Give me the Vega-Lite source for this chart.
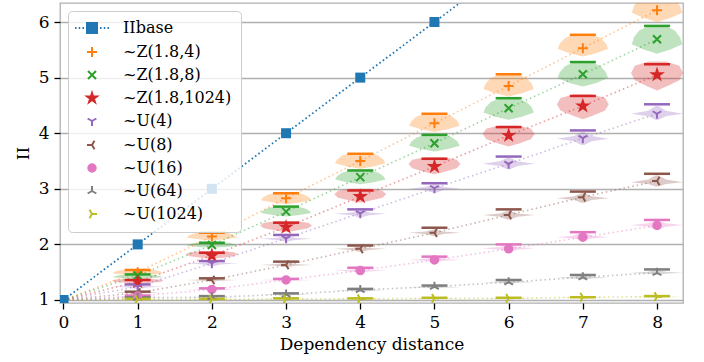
{
"$schema":"https://vega.github.io/schema/vega-lite/v6.json",
"width":623,"height":300,
"autosize":"none",
"padding":{"left":60,"top":3,"right":21,"bottom":59},
"config":{
 "font":"DejaVu Serif",
 "view":{"stroke":"#b0b0b0","strokeWidth":1.3},
 "axis":{"labelFont":"DejaVu Serif","titleFont":"DejaVu Serif","labelFontSize":17,"titleFontSize":17,"titleFontWeight":"normal","labelColor":"#000","titleColor":"#000","tickColor":"#000","tickSize":6,"tickWidth":1.3,"domain":false,"labelPadding":5,"gridColor":"#b0b0b0","gridWidth":1.3,"gridOpacity":1},
 "axisY":{"titlePadding":6},
 "axisX":{"titlePadding":6},
 "legend":{"orient":"top-left","offset":8,"padding":9,"fillColor":"rgba(255,255,255,0.8)","strokeColor":"#cccccc","cornerRadius":4,"labelFont":"DejaVu Serif","labelFontSize":16,"labelColor":"#000","rowPadding":6,"symbolSize":100,"symbolStrokeWidth":2,"symbolOffset":7,"labelOffset":23}
},
"datasets":{
 "base":[{"d":0,"v":1},{"d":1,"v":2},{"d":2,"v":3},{"d":3,"v":4},{"d":4,"v":5},{"d":5,"v":6},{"d":6,"v":7}],
 "pts":[
  {"s":"~Z(1.8,4)","d":0,"m":1},{"s":"~Z(1.8,4)","d":1,"m":1.5,"mx":1.54},{"s":"~Z(1.8,4)","d":2,"m":2.14,"mx":2.21},{"s":"~Z(1.8,4)","d":3,"m":2.83,"mx":2.92},{"s":"~Z(1.8,4)","d":4,"m":3.5,"mx":3.63},{"s":"~Z(1.8,4)","d":5,"m":4.18,"mx":4.35},{"s":"~Z(1.8,4)","d":6,"m":4.85,"mx":5.06},{"s":"~Z(1.8,4)","d":7,"m":5.53,"mx":5.77},{"s":"~Z(1.8,4)","d":8,"m":6.21,"mx":6.48},
  {"s":"~Z(1.8,8)","d":0,"m":1},{"s":"~Z(1.8,8)","d":1,"m":1.44,"mx":1.46},{"s":"~Z(1.8,8)","d":2,"m":1.99,"mx":2.03},{"s":"~Z(1.8,8)","d":3,"m":2.59,"mx":2.68},{"s":"~Z(1.8,8)","d":4,"m":3.21,"mx":3.33},{"s":"~Z(1.8,8)","d":5,"m":3.82,"mx":3.97},{"s":"~Z(1.8,8)","d":6,"m":4.45,"mx":4.63},{"s":"~Z(1.8,8)","d":7,"m":5.06,"mx":5.28},{"s":"~Z(1.8,8)","d":8,"m":5.69,"mx":5.93},
  {"s":"~Z(1.8,1024)","d":0,"m":1},{"s":"~Z(1.8,1024)","d":1,"m":1.33,"mx":1.36},{"s":"~Z(1.8,1024)","d":2,"m":1.8,"mx":1.85},{"s":"~Z(1.8,1024)","d":3,"m":2.31,"mx":2.39},{"s":"~Z(1.8,1024)","d":4,"m":2.86,"mx":2.97},{"s":"~Z(1.8,1024)","d":5,"m":3.4,"mx":3.54},{"s":"~Z(1.8,1024)","d":6,"m":3.96,"mx":4.11},{"s":"~Z(1.8,1024)","d":7,"m":4.49,"mx":4.67},{"s":"~Z(1.8,1024)","d":8,"m":5.05,"mx":5.24},
  {"s":"~U(4)","d":0,"m":1},{"s":"~U(4)","d":1,"m":1.24,"mx":1.28},{"s":"~U(4)","d":2,"m":1.66,"mx":1.7},{"s":"~U(4)","d":3,"m":2.11,"mx":2.17},{"s":"~U(4)","d":4,"m":2.56,"mx":2.63},{"s":"~U(4)","d":5,"m":3.01,"mx":3.1},{"s":"~U(4)","d":6,"m":3.45,"mx":3.58},{"s":"~U(4)","d":7,"m":3.91,"mx":4.05},{"s":"~U(4)","d":8,"m":4.35,"mx":4.52},
  {"s":"~U(8)","d":0,"m":1},{"s":"~U(8)","d":1,"m":1.13,"mx":1.15},{"s":"~U(8)","d":2,"m":1.36,"mx":1.39},{"s":"~U(8)","d":3,"m":1.63,"mx":1.69},{"s":"~U(8)","d":4,"m":1.92,"mx":1.98},{"s":"~U(8)","d":5,"m":2.21,"mx":2.3},{"s":"~U(8)","d":6,"m":2.53,"mx":2.63},{"s":"~U(8)","d":7,"m":2.85,"mx":2.95},{"s":"~U(8)","d":8,"m":3.14,"mx":3.27},
  {"s":"~U(16)","d":0,"m":1},{"s":"~U(16)","d":1,"m":1.07,"mx":1.08},{"s":"~U(16)","d":2,"m":1.19,"mx":1.21},{"s":"~U(16)","d":3,"m":1.36,"mx":1.38},{"s":"~U(16)","d":4,"m":1.53,"mx":1.58},{"s":"~U(16)","d":5,"m":1.72,"mx":1.78},{"s":"~U(16)","d":6,"m":1.92,"mx":2.0},{"s":"~U(16)","d":7,"m":2.13,"mx":2.22},{"s":"~U(16)","d":8,"m":2.34,"mx":2.44},
  {"s":"~U(64)","d":0,"m":1},{"s":"~U(64)","d":1,"m":1.04,"mx":1.05},{"s":"~U(64)","d":2,"m":1.05,"mx":1.07},{"s":"~U(64)","d":3,"m":1.1,"mx":1.12},{"s":"~U(64)","d":4,"m":1.18,"mx":1.2},{"s":"~U(64)","d":5,"m":1.24,"mx":1.26},{"s":"~U(64)","d":6,"m":1.32,"mx":1.36},{"s":"~U(64)","d":7,"m":1.41,"mx":1.45},{"s":"~U(64)","d":8,"m":1.49,"mx":1.55},
  {"s":"~U(1024)","d":0,"m":1},{"s":"~U(1024)","d":1,"m":1.01,"mx":1.02},{"s":"~U(1024)","d":2,"m":1.01,"mx":1.02},{"s":"~U(1024)","d":3,"m":1.02,"mx":1.03},{"s":"~U(1024)","d":4,"m":1.02,"mx":1.03},{"s":"~U(1024)","d":5,"m":1.03,"mx":1.04},{"s":"~U(1024)","d":6,"m":1.03,"mx":1.04},{"s":"~U(1024)","d":7,"m":1.05,"mx":1.05},{"s":"~U(1024)","d":8,"m":1.06,"mx":1.07}
 ],
 "vio":[
  {"s":"~Z(1.8,4)","d":1,"y":1.44,"w":0},{"s":"~Z(1.8,4)","d":1,"y":1.457,"w":0.18},{"s":"~Z(1.8,4)","d":1,"y":1.479,"w":0.34},{"s":"~Z(1.8,4)","d":1,"y":1.506,"w":0.31},{"s":"~Z(1.8,4)","d":1,"y":1.534,"w":0.24},{"s":"~Z(1.8,4)","d":1,"y":1.55,"w":0.13},
  {"s":"~Z(1.8,4)","d":2,"y":2.07,"w":0},{"s":"~Z(1.8,4)","d":2,"y":2.093,"w":0.18},{"s":"~Z(1.8,4)","d":2,"y":2.123,"w":0.34},{"s":"~Z(1.8,4)","d":2,"y":2.16,"w":0.31},{"s":"~Z(1.8,4)","d":2,"y":2.198,"w":0.24},{"s":"~Z(1.8,4)","d":2,"y":2.22,"w":0.13},
  {"s":"~Z(1.8,4)","d":3,"y":2.72,"w":0},{"s":"~Z(1.8,4)","d":3,"y":2.752,"w":0.18},{"s":"~Z(1.8,4)","d":3,"y":2.794,"w":0.34},{"s":"~Z(1.8,4)","d":3,"y":2.846,"w":0.31},{"s":"~Z(1.8,4)","d":3,"y":2.899,"w":0.24},{"s":"~Z(1.8,4)","d":3,"y":2.93,"w":0.13},
  {"s":"~Z(1.8,4)","d":4,"y":3.36,"w":0},{"s":"~Z(1.8,4)","d":4,"y":3.402,"w":0.18},{"s":"~Z(1.8,4)","d":4,"y":3.458,"w":0.34},{"s":"~Z(1.8,4)","d":4,"y":3.528,"w":0.31},{"s":"~Z(1.8,4)","d":4,"y":3.598,"w":0.24},{"s":"~Z(1.8,4)","d":4,"y":3.64,"w":0.13},
  {"s":"~Z(1.8,4)","d":5,"y":4.02,"w":0},{"s":"~Z(1.8,4)","d":5,"y":4.07,"w":0.18},{"s":"~Z(1.8,4)","d":5,"y":4.136,"w":0.34},{"s":"~Z(1.8,4)","d":5,"y":4.218,"w":0.31},{"s":"~Z(1.8,4)","d":5,"y":4.301,"w":0.24},{"s":"~Z(1.8,4)","d":5,"y":4.35,"w":0.13},
  {"s":"~Z(1.8,4)","d":6,"y":4.66,"w":0},{"s":"~Z(1.8,4)","d":6,"y":4.719,"w":0.18},{"s":"~Z(1.8,4)","d":6,"y":4.797,"w":0.34},{"s":"~Z(1.8,4)","d":6,"y":4.894,"w":0.31},{"s":"~Z(1.8,4)","d":6,"y":4.992,"w":0.24},{"s":"~Z(1.8,4)","d":6,"y":5.05,"w":0.13},
  {"s":"~Z(1.8,4)","d":7,"y":5.38,"w":0},{"s":"~Z(1.8,4)","d":7,"y":5.439,"w":0.18},{"s":"~Z(1.8,4)","d":7,"y":5.517,"w":0.34},{"s":"~Z(1.8,4)","d":7,"y":5.614,"w":0.31},{"s":"~Z(1.8,4)","d":7,"y":5.712,"w":0.24},{"s":"~Z(1.8,4)","d":7,"y":5.77,"w":0.13},
  {"s":"~Z(1.8,4)","d":8,"y":6.0,"w":0},{"s":"~Z(1.8,4)","d":8,"y":6.072,"w":0.18},{"s":"~Z(1.8,4)","d":8,"y":6.168,"w":0.34},{"s":"~Z(1.8,4)","d":8,"y":6.288,"w":0.31},{"s":"~Z(1.8,4)","d":8,"y":6.408,"w":0.24},{"s":"~Z(1.8,4)","d":8,"y":6.48,"w":0.13},
  {"s":"~Z(1.8,8)","d":1,"y":1.38,"w":0},{"s":"~Z(1.8,8)","d":1,"y":1.392,"w":0.18},{"s":"~Z(1.8,8)","d":1,"y":1.408,"w":0.34},{"s":"~Z(1.8,8)","d":1,"y":1.428,"w":0.31},{"s":"~Z(1.8,8)","d":1,"y":1.448,"w":0.24},{"s":"~Z(1.8,8)","d":1,"y":1.46,"w":0.13},
  {"s":"~Z(1.8,8)","d":2,"y":1.94,"w":0},{"s":"~Z(1.8,8)","d":2,"y":1.955,"w":0.18},{"s":"~Z(1.8,8)","d":2,"y":1.975,"w":0.34},{"s":"~Z(1.8,8)","d":2,"y":2.0,"w":0.31},{"s":"~Z(1.8,8)","d":2,"y":2.025,"w":0.24},{"s":"~Z(1.8,8)","d":2,"y":2.04,"w":0.13},
  {"s":"~Z(1.8,8)","d":3,"y":2.5,"w":0},{"s":"~Z(1.8,8)","d":3,"y":2.527,"w":0.18},{"s":"~Z(1.8,8)","d":3,"y":2.563,"w":0.34},{"s":"~Z(1.8,8)","d":3,"y":2.608,"w":0.31},{"s":"~Z(1.8,8)","d":3,"y":2.653,"w":0.24},{"s":"~Z(1.8,8)","d":3,"y":2.68,"w":0.13},
  {"s":"~Z(1.8,8)","d":4,"y":3.08,"w":0},{"s":"~Z(1.8,8)","d":4,"y":3.118,"w":0.18},{"s":"~Z(1.8,8)","d":4,"y":3.168,"w":0.34},{"s":"~Z(1.8,8)","d":4,"y":3.23,"w":0.31},{"s":"~Z(1.8,8)","d":4,"y":3.293,"w":0.24},{"s":"~Z(1.8,8)","d":4,"y":3.33,"w":0.13},
  {"s":"~Z(1.8,8)","d":5,"y":3.67,"w":0},{"s":"~Z(1.8,8)","d":5,"y":3.715,"w":0.18},{"s":"~Z(1.8,8)","d":5,"y":3.775,"w":0.34},{"s":"~Z(1.8,8)","d":5,"y":3.85,"w":0.31},{"s":"~Z(1.8,8)","d":5,"y":3.925,"w":0.24},{"s":"~Z(1.8,8)","d":5,"y":3.97,"w":0.13},
  {"s":"~Z(1.8,8)","d":6,"y":4.24,"w":0},{"s":"~Z(1.8,8)","d":6,"y":4.297,"w":0.18},{"s":"~Z(1.8,8)","d":6,"y":4.373,"w":0.34},{"s":"~Z(1.8,8)","d":6,"y":4.468,"w":0.31},{"s":"~Z(1.8,8)","d":6,"y":4.563,"w":0.24},{"s":"~Z(1.8,8)","d":6,"y":4.62,"w":0.13},
  {"s":"~Z(1.8,8)","d":7,"y":4.84,"w":0},{"s":"~Z(1.8,8)","d":7,"y":4.905,"w":0.18},{"s":"~Z(1.8,8)","d":7,"y":4.991,"w":0.34},{"s":"~Z(1.8,8)","d":7,"y":5.098,"w":0.31},{"s":"~Z(1.8,8)","d":7,"y":5.206,"w":0.24},{"s":"~Z(1.8,8)","d":7,"y":5.27,"w":0.13},
  {"s":"~Z(1.8,8)","d":8,"y":5.43,"w":0},{"s":"~Z(1.8,8)","d":8,"y":5.504,"w":0.18},{"s":"~Z(1.8,8)","d":8,"y":5.602,"w":0.34},{"s":"~Z(1.8,8)","d":8,"y":5.724,"w":0.31},{"s":"~Z(1.8,8)","d":8,"y":5.847,"w":0.24},{"s":"~Z(1.8,8)","d":8,"y":5.92,"w":0.13},
  {"s":"~Z(1.8,1024)","d":1,"y":1.29,"w":0},{"s":"~Z(1.8,1024)","d":1,"y":1.304,"w":0.14},{"s":"~Z(1.8,1024)","d":1,"y":1.322,"w":0.3},{"s":"~Z(1.8,1024)","d":1,"y":1.344,"w":0.35},{"s":"~Z(1.8,1024)","d":1,"y":1.367,"w":0.3},{"s":"~Z(1.8,1024)","d":1,"y":1.38,"w":0.12},
  {"s":"~Z(1.8,1024)","d":2,"y":1.74,"w":0},{"s":"~Z(1.8,1024)","d":2,"y":1.761,"w":0.14},{"s":"~Z(1.8,1024)","d":2,"y":1.789,"w":0.3},{"s":"~Z(1.8,1024)","d":2,"y":1.824,"w":0.35},{"s":"~Z(1.8,1024)","d":2,"y":1.859,"w":0.3},{"s":"~Z(1.8,1024)","d":2,"y":1.88,"w":0.12},
  {"s":"~Z(1.8,1024)","d":3,"y":2.22,"w":0},{"s":"~Z(1.8,1024)","d":3,"y":2.25,"w":0.14},{"s":"~Z(1.8,1024)","d":3,"y":2.29,"w":0.3},{"s":"~Z(1.8,1024)","d":3,"y":2.34,"w":0.35},{"s":"~Z(1.8,1024)","d":3,"y":2.39,"w":0.3},{"s":"~Z(1.8,1024)","d":3,"y":2.42,"w":0.12},
  {"s":"~Z(1.8,1024)","d":4,"y":2.75,"w":0},{"s":"~Z(1.8,1024)","d":4,"y":2.788,"w":0.14},{"s":"~Z(1.8,1024)","d":4,"y":2.838,"w":0.3},{"s":"~Z(1.8,1024)","d":4,"y":2.9,"w":0.35},{"s":"~Z(1.8,1024)","d":4,"y":2.963,"w":0.3},{"s":"~Z(1.8,1024)","d":4,"y":3.0,"w":0.12},
  {"s":"~Z(1.8,1024)","d":5,"y":3.26,"w":0},{"s":"~Z(1.8,1024)","d":5,"y":3.307,"w":0.14},{"s":"~Z(1.8,1024)","d":5,"y":3.369,"w":0.3},{"s":"~Z(1.8,1024)","d":5,"y":3.446,"w":0.35},{"s":"~Z(1.8,1024)","d":5,"y":3.524,"w":0.3},{"s":"~Z(1.8,1024)","d":5,"y":3.57,"w":0.12},
  {"s":"~Z(1.8,1024)","d":6,"y":3.76,"w":0},{"s":"~Z(1.8,1024)","d":6,"y":3.817,"w":0.14},{"s":"~Z(1.8,1024)","d":6,"y":3.893,"w":0.3},{"s":"~Z(1.8,1024)","d":6,"y":3.988,"w":0.35},{"s":"~Z(1.8,1024)","d":6,"y":4.083,"w":0.3},{"s":"~Z(1.8,1024)","d":6,"y":4.14,"w":0.12},
  {"s":"~Z(1.8,1024)","d":7,"y":4.25,"w":0},{"s":"~Z(1.8,1024)","d":7,"y":4.318,"w":0.14},{"s":"~Z(1.8,1024)","d":7,"y":4.408,"w":0.3},{"s":"~Z(1.8,1024)","d":7,"y":4.52,"w":0.35},{"s":"~Z(1.8,1024)","d":7,"y":4.633,"w":0.3},{"s":"~Z(1.8,1024)","d":7,"y":4.7,"w":0.12},
  {"s":"~Z(1.8,1024)","d":8,"y":4.77,"w":0},{"s":"~Z(1.8,1024)","d":8,"y":4.848,"w":0.14},{"s":"~Z(1.8,1024)","d":8,"y":4.952,"w":0.3},{"s":"~Z(1.8,1024)","d":8,"y":5.082,"w":0.35},{"s":"~Z(1.8,1024)","d":8,"y":5.212,"w":0.3},{"s":"~Z(1.8,1024)","d":8,"y":5.29,"w":0.12},
  {"s":"~U(4)","d":1,"y":1.2,"w":0.02},{"s":"~U(4)","d":1,"y":1.224,"w":0.12},{"s":"~U(4)","d":1,"y":1.24,"w":0.35},{"s":"~U(4)","d":1,"y":1.252,"w":0.12},{"s":"~U(4)","d":1,"y":1.27,"w":0.02},
  {"s":"~U(4)","d":2,"y":1.61,"w":0.02},{"s":"~U(4)","d":2,"y":1.64,"w":0.12},{"s":"~U(4)","d":2,"y":1.66,"w":0.35},{"s":"~U(4)","d":2,"y":1.672,"w":0.12},{"s":"~U(4)","d":2,"y":1.69,"w":0.02},
  {"s":"~U(4)","d":3,"y":2.05,"w":0.02},{"s":"~U(4)","d":3,"y":2.08,"w":0.12},{"s":"~U(4)","d":3,"y":2.1,"w":0.35},{"s":"~U(4)","d":3,"y":2.12,"w":0.12},{"s":"~U(4)","d":3,"y":2.15,"w":0.02},
  {"s":"~U(4)","d":4,"y":2.49,"w":0.02},{"s":"~U(4)","d":4,"y":2.526,"w":0.12},{"s":"~U(4)","d":4,"y":2.55,"w":0.35},{"s":"~U(4)","d":4,"y":2.574,"w":0.12},{"s":"~U(4)","d":4,"y":2.61,"w":0.02},
  {"s":"~U(4)","d":5,"y":2.93,"w":0.02},{"s":"~U(4)","d":5,"y":2.972,"w":0.12},{"s":"~U(4)","d":5,"y":3.0,"w":0.35},{"s":"~U(4)","d":5,"y":3.032,"w":0.12},{"s":"~U(4)","d":5,"y":3.08,"w":0.02},
  {"s":"~U(4)","d":6,"y":3.35,"w":0.02},{"s":"~U(4)","d":6,"y":3.41,"w":0.12},{"s":"~U(4)","d":6,"y":3.45,"w":0.35},{"s":"~U(4)","d":6,"y":3.494,"w":0.12},{"s":"~U(4)","d":6,"y":3.56,"w":0.02},
  {"s":"~U(4)","d":7,"y":3.79,"w":0.02},{"s":"~U(4)","d":7,"y":3.856,"w":0.12},{"s":"~U(4)","d":7,"y":3.9,"w":0.35},{"s":"~U(4)","d":7,"y":3.948,"w":0.12},{"s":"~U(4)","d":7,"y":4.02,"w":0.02},
  {"s":"~U(4)","d":8,"y":4.24,"w":0.02},{"s":"~U(4)","d":8,"y":4.306,"w":0.12},{"s":"~U(4)","d":8,"y":4.35,"w":0.35},{"s":"~U(4)","d":8,"y":4.406,"w":0.12},{"s":"~U(4)","d":8,"y":4.49,"w":0.02},
  {"s":"~U(8)","d":1,"y":1.11,"w":0.02},{"s":"~U(8)","d":1,"y":1.122,"w":0.12},{"s":"~U(8)","d":1,"y":1.13,"w":0.35},{"s":"~U(8)","d":1,"y":1.138,"w":0.12},{"s":"~U(8)","d":1,"y":1.15,"w":0.02},
  {"s":"~U(8)","d":2,"y":1.33,"w":0.02},{"s":"~U(8)","d":2,"y":1.348,"w":0.12},{"s":"~U(8)","d":2,"y":1.36,"w":0.35},{"s":"~U(8)","d":2,"y":1.368,"w":0.12},{"s":"~U(8)","d":2,"y":1.38,"w":0.02},
  {"s":"~U(8)","d":3,"y":1.59,"w":0.02},{"s":"~U(8)","d":3,"y":1.614,"w":0.12},{"s":"~U(8)","d":3,"y":1.63,"w":0.35},{"s":"~U(8)","d":3,"y":1.646,"w":0.12},{"s":"~U(8)","d":3,"y":1.67,"w":0.02},
  {"s":"~U(8)","d":4,"y":1.87,"w":0.02},{"s":"~U(8)","d":4,"y":1.9,"w":0.12},{"s":"~U(8)","d":4,"y":1.92,"w":0.35},{"s":"~U(8)","d":4,"y":1.936,"w":0.12},{"s":"~U(8)","d":4,"y":1.96,"w":0.02},
  {"s":"~U(8)","d":5,"y":2.15,"w":0.02},{"s":"~U(8)","d":5,"y":2.186,"w":0.12},{"s":"~U(8)","d":5,"y":2.21,"w":0.35},{"s":"~U(8)","d":5,"y":2.234,"w":0.12},{"s":"~U(8)","d":5,"y":2.27,"w":0.02},
  {"s":"~U(8)","d":6,"y":2.45,"w":0.02},{"s":"~U(8)","d":6,"y":2.498,"w":0.12},{"s":"~U(8)","d":6,"y":2.53,"w":0.35},{"s":"~U(8)","d":6,"y":2.558,"w":0.12},{"s":"~U(8)","d":6,"y":2.6,"w":0.02},
  {"s":"~U(8)","d":7,"y":2.75,"w":0.02},{"s":"~U(8)","d":7,"y":2.798,"w":0.12},{"s":"~U(8)","d":7,"y":2.83,"w":0.35},{"s":"~U(8)","d":7,"y":2.866,"w":0.12},{"s":"~U(8)","d":7,"y":2.92,"w":0.02},
  {"s":"~U(8)","d":8,"y":3.04,"w":0.02},{"s":"~U(8)","d":8,"y":3.088,"w":0.12},{"s":"~U(8)","d":8,"y":3.12,"w":0.35},{"s":"~U(8)","d":8,"y":3.168,"w":0.12},{"s":"~U(8)","d":8,"y":3.24,"w":0.02},
  {"s":"~U(16)","d":1,"y":1.05,"w":0.02},{"s":"~U(16)","d":1,"y":1.062,"w":0.12},{"s":"~U(16)","d":1,"y":1.07,"w":0.35},{"s":"~U(16)","d":1,"y":1.074,"w":0.12},{"s":"~U(16)","d":1,"y":1.08,"w":0.02},
  {"s":"~U(16)","d":2,"y":1.17,"w":0.02},{"s":"~U(16)","d":2,"y":1.182,"w":0.12},{"s":"~U(16)","d":2,"y":1.19,"w":0.35},{"s":"~U(16)","d":2,"y":1.198,"w":0.12},{"s":"~U(16)","d":2,"y":1.21,"w":0.02},
  {"s":"~U(16)","d":3,"y":1.33,"w":0.02},{"s":"~U(16)","d":3,"y":1.348,"w":0.12},{"s":"~U(16)","d":3,"y":1.36,"w":0.35},{"s":"~U(16)","d":3,"y":1.368,"w":0.12},{"s":"~U(16)","d":3,"y":1.38,"w":0.02},
  {"s":"~U(16)","d":4,"y":1.49,"w":0.02},{"s":"~U(16)","d":4,"y":1.514,"w":0.12},{"s":"~U(16)","d":4,"y":1.53,"w":0.35},{"s":"~U(16)","d":4,"y":1.546,"w":0.12},{"s":"~U(16)","d":4,"y":1.57,"w":0.02},
  {"s":"~U(16)","d":5,"y":1.68,"w":0.02},{"s":"~U(16)","d":5,"y":1.704,"w":0.12},{"s":"~U(16)","d":5,"y":1.72,"w":0.35},{"s":"~U(16)","d":5,"y":1.74,"w":0.12},{"s":"~U(16)","d":5,"y":1.77,"w":0.02},
  {"s":"~U(16)","d":6,"y":1.87,"w":0.02},{"s":"~U(16)","d":6,"y":1.906,"w":0.12},{"s":"~U(16)","d":6,"y":1.93,"w":0.35},{"s":"~U(16)","d":6,"y":1.954,"w":0.12},{"s":"~U(16)","d":6,"y":1.99,"w":0.02},
  {"s":"~U(16)","d":7,"y":2.07,"w":0.02},{"s":"~U(16)","d":7,"y":2.106,"w":0.12},{"s":"~U(16)","d":7,"y":2.13,"w":0.35},{"s":"~U(16)","d":7,"y":2.162,"w":0.12},{"s":"~U(16)","d":7,"y":2.21,"w":0.02},
  {"s":"~U(16)","d":8,"y":2.27,"w":0.02},{"s":"~U(16)","d":8,"y":2.318,"w":0.12},{"s":"~U(16)","d":8,"y":2.35,"w":0.35},{"s":"~U(16)","d":8,"y":2.382,"w":0.12},{"s":"~U(16)","d":8,"y":2.43,"w":0.02},
  {"s":"~U(64)","d":1,"y":1.03,"w":0.02},{"s":"~U(64)","d":1,"y":1.036,"w":0.12},{"s":"~U(64)","d":1,"y":1.04,"w":0.35},{"s":"~U(64)","d":1,"y":1.044,"w":0.12},{"s":"~U(64)","d":1,"y":1.05,"w":0.02},
  {"s":"~U(64)","d":2,"y":1.04,"w":0.02},{"s":"~U(64)","d":2,"y":1.046,"w":0.12},{"s":"~U(64)","d":2,"y":1.05,"w":0.35},{"s":"~U(64)","d":2,"y":1.058,"w":0.12},{"s":"~U(64)","d":2,"y":1.07,"w":0.02},
  {"s":"~U(64)","d":3,"y":1.08,"w":0.02},{"s":"~U(64)","d":3,"y":1.092,"w":0.12},{"s":"~U(64)","d":3,"y":1.1,"w":0.35},{"s":"~U(64)","d":3,"y":1.108,"w":0.12},{"s":"~U(64)","d":3,"y":1.12,"w":0.02},
  {"s":"~U(64)","d":4,"y":1.15,"w":0.02},{"s":"~U(64)","d":4,"y":1.162,"w":0.12},{"s":"~U(64)","d":4,"y":1.17,"w":0.35},{"s":"~U(64)","d":4,"y":1.182,"w":0.12},{"s":"~U(64)","d":4,"y":1.2,"w":0.02},
  {"s":"~U(64)","d":5,"y":1.21,"w":0.02},{"s":"~U(64)","d":5,"y":1.222,"w":0.12},{"s":"~U(64)","d":5,"y":1.23,"w":0.35},{"s":"~U(64)","d":5,"y":1.242,"w":0.12},{"s":"~U(64)","d":5,"y":1.26,"w":0.02},
  {"s":"~U(64)","d":6,"y":1.29,"w":0.02},{"s":"~U(64)","d":6,"y":1.308,"w":0.12},{"s":"~U(64)","d":6,"y":1.32,"w":0.35},{"s":"~U(64)","d":6,"y":1.332,"w":0.12},{"s":"~U(64)","d":6,"y":1.35,"w":0.02},
  {"s":"~U(64)","d":7,"y":1.37,"w":0.02},{"s":"~U(64)","d":7,"y":1.388,"w":0.12},{"s":"~U(64)","d":7,"y":1.4,"w":0.35},{"s":"~U(64)","d":7,"y":1.416,"w":0.12},{"s":"~U(64)","d":7,"y":1.44,"w":0.02},
  {"s":"~U(64)","d":8,"y":1.45,"w":0.02},{"s":"~U(64)","d":8,"y":1.474,"w":0.12},{"s":"~U(64)","d":8,"y":1.49,"w":0.35},{"s":"~U(64)","d":8,"y":1.51,"w":0.12},{"s":"~U(64)","d":8,"y":1.54,"w":0.02},
  {"s":"~U(1024)","d":1,"y":1.0,"w":0.02},{"s":"~U(1024)","d":1,"y":1.01,"w":0.35},{"s":"~U(1024)","d":1,"y":1.02,"w":0.02},
  {"s":"~U(1024)","d":2,"y":1.0,"w":0.02},{"s":"~U(1024)","d":2,"y":1.01,"w":0.35},{"s":"~U(1024)","d":2,"y":1.02,"w":0.02},
  {"s":"~U(1024)","d":3,"y":1.01,"w":0.02},{"s":"~U(1024)","d":3,"y":1.02,"w":0.35},{"s":"~U(1024)","d":3,"y":1.03,"w":0.02},
  {"s":"~U(1024)","d":4,"y":1.01,"w":0.02},{"s":"~U(1024)","d":4,"y":1.02,"w":0.35},{"s":"~U(1024)","d":4,"y":1.03,"w":0.02},
  {"s":"~U(1024)","d":5,"y":1.02,"w":0.02},{"s":"~U(1024)","d":5,"y":1.03,"w":0.35},{"s":"~U(1024)","d":5,"y":1.04,"w":0.02},
  {"s":"~U(1024)","d":6,"y":1.02,"w":0.02},{"s":"~U(1024)","d":6,"y":1.03,"w":0.35},{"s":"~U(1024)","d":6,"y":1.04,"w":0.02},
  {"s":"~U(1024)","d":7,"y":1.03,"w":0.02},{"s":"~U(1024)","d":7,"y":1.045,"w":0.35},{"s":"~U(1024)","d":7,"y":1.055,"w":0.02},
  {"s":"~U(1024)","d":8,"y":1.04,"w":0.02},{"s":"~U(1024)","d":8,"y":1.055,"w":0.35},{"s":"~U(1024)","d":8,"y":1.07,"w":0.02}
 ]
},
"layer":[
 {
  "data":{"name":"vio"},
  "transform":[{"calculate":"datum.d - datum.w","as":"lo"},{"calculate":"datum.d + datum.w","as":"hi"}],
  "mark":{"type":"area","orient":"horizontal","opacity":0.3,"clip":true},
  "encoding":{
   "y":{"field":"y","type":"quantitative","title":"II","scale":{"domain":[0.946,6.342],"nice":false,"zero":false},"axis":{"values":[1,2,3,4,5,6],"grid":true}},
   "x":{"field":"lo","type":"quantitative","title":"Dependency distance","scale":{"domain":[-0.047,8.35],"nice":false,"zero":false},"axis":{"values":[0,1,2,3,4,5,6,7,8],"grid":false}},
   "x2":{"field":"hi"},
   "color":{"field":"s","type":"nominal","legend":null,"scale":{"domain":["~Z(1.8,4)","~Z(1.8,8)","~Z(1.8,1024)","~U(4)","~U(8)","~U(16)","~U(64)","~U(1024)"],"range":["#ff7f0e","#2ca02c","#d62728","#9467bd","#8c564b","#e377c2","#7f7f7f","#bcbd22"]}},
   "detail":{"field":"d","type":"nominal"}
  }
 },
 {
  "data":{"name":"pts"},
  "mark":{"type":"line","strokeDash":[1.5,3],"strokeWidth":1.6,"opacity":0.45,"clip":true},
  "encoding":{
   "y":{"field":"m","type":"quantitative","title":"II","axis":{"values":[1,2,3,4,5,6],"grid":true}},
   "x":{"field":"d","type":"quantitative","title":"Dependency distance","axis":{"values":[0,1,2,3,4,5,6,7,8],"grid":false}},
   "color":{"field":"s","type":"nominal","legend":null}
  }
 },
 {
  "data":{"name":"base"},
  "mark":{"type":"line","color":"#1f77b4","strokeDash":[1.6,2.6],"strokeWidth":1.8,"clip":true},
  "encoding":{
   "y":{"field":"v","type":"quantitative","title":"II","axis":{"values":[1,2,3,4,5,6],"grid":true}},
   "x":{"field":"d","type":"quantitative","title":"Dependency distance","axis":{"values":[0,1,2,3,4,5,6,7,8],"grid":false}}
  }
 },
 {
  "data":{"name":"pts"},
  "transform":[{"filter":"datum.d > 0"}],
  "mark":{"type":"tick","orient":"horizontal","size":26,"thickness":2.5,"opacity":1,"clip":true},
  "encoding":{
   "y":{"field":"mx","type":"quantitative","title":"II","axis":{"values":[1,2,3,4,5,6],"grid":true}},
   "x":{"field":"d","type":"quantitative","title":"Dependency distance","axis":{"values":[0,1,2,3,4,5,6,7,8],"grid":false}},
   "color":{"field":"s","type":"nominal","legend":null}
  }
 },
 {
  "data":{"name":"pts"},
  "transform":[{"filter":"datum.d > 0"}],
  "mark":{"type":"point","filled":true,"size":100,"strokeWidth":2,"opacity":1,"clip":true},
  "encoding":{
   "y":{"field":"m","type":"quantitative","title":"II","axis":{"values":[1,2,3,4,5,6],"grid":true}},
   "x":{"field":"d","type":"quantitative","title":"Dependency distance","axis":{"values":[0,1,2,3,4,5,6,7,8],"grid":false}},
   "fill":{"field":"s","type":"nominal","legend":{"title":null},"scale":{"domain":["IIbase","~Z(1.8,4)","~Z(1.8,8)","~Z(1.8,1024)","~U(4)","~U(8)","~U(16)","~U(64)","~U(1024)"],"range":["#1f77b4","#ff7f0e","#2ca02c","#d62728","#9467bd","#8c564b","#e377c2","#7f7f7f","#bcbd22"]}},
   "stroke":{"field":"s","type":"nominal","legend":{"title":null},"scale":{"domain":["IIbase","~Z(1.8,4)","~Z(1.8,8)","~Z(1.8,1024)","~U(4)","~U(8)","~U(16)","~U(64)","~U(1024)"],"range":["#1f77b4","#ff7f0e","#2ca02c","#d62728","#9467bd","#8c564b","#e377c2","#7f7f7f","#bcbd22"]}},
   "shape":{"field":"s","type":"nominal","legend":{"title":null},"scale":{"domain":["IIbase","~Z(1.8,4)","~Z(1.8,8)","~Z(1.8,1024)","~U(4)","~U(8)","~U(16)","~U(64)","~U(1024)"],"range":[
    "M-1,-1L1,-1L1,1L-1,1Z M-3.4,0L-3.1,0 M-2.65,0L-2.35,0 M-1.9,0L-1.6,0 M1.6,0L1.9,0 M2.35,0L2.65,0 M3.1,0L3.4,0",
    "M-1,0L1,0M0,-1L0,1",
    "M-0.8,-0.8L0.8,0.8M-0.8,0.8L0.8,-0.8",
    "M0,-1L0.225,-0.31L0.951,-0.31L0.364,0.118L0.588,0.809L0,0.382L-0.588,0.809L-0.364,0.118L-0.951,-0.31L-0.225,-0.31Z",
    "M0,0L0,1M0,0L-0.87,-0.5M0,0L0.87,-0.5",
    "M0,0L-1,0M0,0L0.5,-0.87M0,0L0.5,0.87",
    "M0.75,0A0.75,0.75,0,1,1,-0.75,0A0.75,0.75,0,1,1,0.75,0Z",
    "M0,0L0,-1M0,0L-0.87,0.5M0,0L0.87,0.5",
    "M0,0L1,0M0,0L-0.5,-0.87M0,0L-0.5,0.87"]}}
  }
 },
 {
  "data":{"name":"base"},
  "mark":{"type":"point","shape":"square","filled":true,"size":100,"color":"#1f77b4","opacity":1,"clip":true},
  "encoding":{
   "y":{"field":"v","type":"quantitative","title":"II","axis":{"values":[1,2,3,4,5,6],"grid":true}},
   "x":{"field":"d","type":"quantitative","title":"Dependency distance","axis":{"values":[0,1,2,3,4,5,6,7,8],"grid":false}}
  }
 }
]
}
